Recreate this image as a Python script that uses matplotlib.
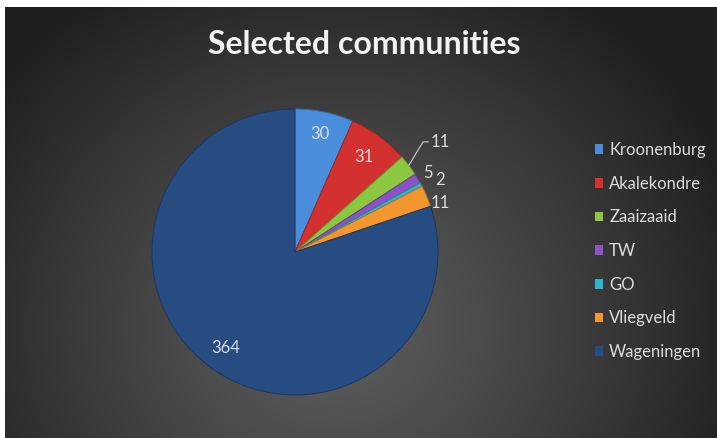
import numpy as np
import matplotlib.pyplot as plt
from matplotlib.patches import Patch

communities = ["Kroonenburg", "Akalekondre", "Zaaizaaid", "TW", "GO", "Vliegveld", "Wageningen"]
counts = [30, 31, 11, 5, 2, 11, 364]
colors = ["#4a8edb", "#d3312f", "#8dc63f", "#8c52c6", "#2fb6cf", "#f29630", "#264c82"]

plt.rcParams['font.family'] = ['Lato', 'DejaVu Sans']

W, H = 717, 438
fig = plt.figure(figsize=(W / 100, H / 100), dpi=100, facecolor="white")

# dark backdrop with a soft radial glow
bg = fig.add_axes([5 / W, 0, 1 - 5 / W, 1 - 7 / H])
yy, xx = np.mgrid[0:431, 0:712]
t = np.sqrt(((xx - 330) / 430.0) ** 2 + ((yy - 320) / 400.0) ** 2)
t = np.clip(t, 0, 1) ** 1.1
c0 = np.array([0x5e, 0x5e, 0x5e]) / 255.0
c1 = np.array([0x1f, 0x1f, 0x1f]) / 255.0
img = c0[None, None, :] * (1 - t[..., None]) + c1[None, None, :] * t[..., None]
bg.imshow(img, aspect="auto", interpolation="bilinear")
bg.axis("off")

fig.text(364 / W, 1 - 45 / H, "Selected communities", color="#f2f2f2",
         fontsize=23, fontweight="bold", ha="center", va="center")

# pie
cx, cy, rpx = 295, 252, 143
size = rpx * 2.1
ax = fig.add_axes([(cx - size / 2) / W, (H - cy - size / 2) / H, size / W, size / H])
wedges, _ = ax.pie(counts, colors=colors, startangle=90, counterclock=False,
                   radius=1.0, wedgeprops=dict(linewidth=0.7))
for w in wedges:
    w.set_edgecolor(tuple(np.array(w.get_facecolor()[:3]) * 0.75))
ax.set_xlim(-1.05, 1.05)
ax.set_ylim(-1.05, 1.05)
ax.axis("off")

total = float(sum(counts))
start = 90.0
mids = []
for v in counts:
    span = 360.0 * v / total
    mids.append(np.deg2rad(start - span / 2))
    start -= span

lab_col = "#dcdcdc"
fs = 12
# inside labels
for i, r in [(0, 0.84), (1, 0.82), (6, 0.83)]:
    a = mids[i]
    ax.text(r * np.cos(a), r * np.sin(a), str(counts[i]), color=lab_col,
            fontsize=fs, ha="center", va="center")

# outside labels for the thin slices
a = mids[2]
ex, ey = np.cos(a), np.sin(a)
kx, ky = 0.895, 0.77
ax.plot([ex, kx, kx + 0.035], [ey, ky, ky], color="#d0d0d0", lw=0.8)
ax.text(kx + 0.05, ky, str(counts[2]), color=lab_col, fontsize=fs, ha="left", va="center")

for i, r, dy in [(3, 1.08, 0.0), (4, 1.15, -0.04), (5, 1.1, -0.09)]:
    a = mids[i]
    ax.text(r * np.cos(a), r * np.sin(a) + dy, str(counts[i]), color=lab_col,
            fontsize=fs, ha="center", va="center")

handles = [Patch(facecolor=c, edgecolor="none") for c in colors]
leg = fig.legend(handles, communities, loc="upper left",
                 bbox_to_anchor=(595 / W, 1 - 142 / H), frameon=False,
                 fontsize=12, labelcolor=lab_col, handlelength=0.5,
                 handleheight=0.5, handletextpad=0.35, labelspacing=1.06,
                 borderpad=0, borderaxespad=0)

fig.savefig("out.png", dpi=100, facecolor="white")
